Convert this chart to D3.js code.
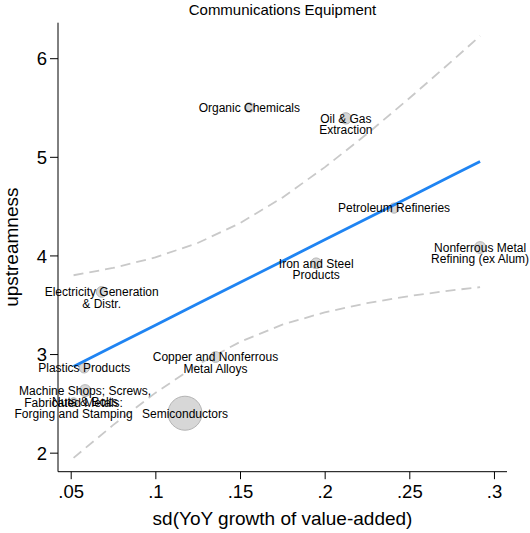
<!DOCTYPE html>
<html>
<head>
<meta charset="utf-8">
<script src="https://cdn.jsdelivr.net/npm/d3@7"></script>
<style>
  html, body { margin: 0; padding: 0; background: #fff; }
  svg { display: block; font-family: "Liberation Sans", Arial, Helvetica, sans-serif; }
</style>
</head>
<body>
<svg id="chart" width="530" height="533"></svg>
<script>
// Industries supplying communications equipment
const industries = [
  ["Organic Chemicals"],
  ["Oil & Gas", "Extraction"],
  ["Petroleum Refineries"],
  ["Nonferrous Metal", "Refining (ex Alum)"],
  ["Iron and Steel", "Products"],
  ["Electricity Generation", "& Distr."],
  ["Plastics Products"],
  ["Machine Shops; Screws,", "Nuts & Bolts"],
  ["Fabricated Metals:", "Forging and Stamping"],
  ["Copper and Nonferrous", "Metal Alloys"],
  ["Semiconductors"]
];
const sdGrowth     = [0.1555, 0.2125, 0.2410, 0.2918, 0.1950, 0.0683, 0.0580, 0.0585, 0.0517, 0.1355, 0.1175];
const upstreamness = [5.50, 5.39, 4.48, 4.08, 3.92, 3.63, 2.86, 2.63, 2.51, 2.97, 2.40];
const weight       = [8, 11, 9, 12, 10, 10, 9, 12, 7, 10, 100];

// Linear fit with its confidence band
const fitX     = [0.0517, 0.075, 0.100, 0.125, 0.150, 0.175, 0.200, 0.225, 0.250, 0.275, 0.2918];
const fitY     = [2.874, 3.076, 3.293, 3.509, 3.725, 3.942, 4.158, 4.374, 4.591, 4.807, 4.952];
const ciUpper  = [3.799, 3.873, 3.980, 4.126, 4.327, 4.586, 4.893, 5.232, 5.594, 5.968, 6.226];
const ciLower  = [1.947, 2.279, 2.606, 2.892, 3.123, 3.298, 3.423, 3.516, 3.588, 3.646, 3.678];

const xTicks = [0.05, 0.10, 0.15, 0.20, 0.25, 0.30];
const xTickLabels = [".05", ".1", ".15", ".2", ".25", ".3"];
const yTicks = [2, 3, 4, 5, 6];
const yTickLabels = ["2", "3", "4", "5", "6"];

const chartTitle = "Communications Equipment";
const xTitle = "sd(YoY growth of value-added)";
const yTitle = "upstreamness";

const svg = d3.select("#chart");
const plot = { left: 58, right: 507, top: 22.7, bottom: 471.7 };

const x = d3.scaleLinear().domain([0.0425, 0.3077]).range([plot.left, plot.right]);
const y = d3.scaleLinear().domain([1.807, 6.36]).range([plot.bottom, plot.top]);
const r = d3.scaleSqrt().domain([0, 100]).range([0, 17]);

// Axes
const xAxis = d3.axisBottom(x).tickValues(xTicks)
  .tickFormat((d, i) => xTickLabels[i]).tickSize(7.5).tickPadding(6).tickSizeOuter(0);
const yAxis = d3.axisLeft(y).tickValues(yTicks)
  .tickFormat((d, i) => yTickLabels[i]).tickSize(8).tickPadding(3).tickSizeOuter(0);

const gx = svg.append("g").attr("transform", `translate(0,${plot.bottom})`).call(xAxis);
const gy = svg.append("g").attr("transform", `translate(${plot.left},0)`).call(yAxis);
[gx, gy].forEach(g => {
  g.select(".domain").attr("stroke", "#000").attr("stroke-width", 1);
  g.selectAll(".tick line").attr("stroke", "#000").attr("stroke-width", 1);
  g.selectAll(".tick text").attr("fill", "#000").style("font-size", "18.5px")
    .style("font-family", "'Liberation Sans', Arial, sans-serif");
});
gy.selectAll(".tick text").attr("dy", "0.36em");
gx.select(".domain").attr("d", `M${plot.left},0H${plot.right}`);
gy.select(".domain").attr("d", `M0,${plot.top}V${plot.bottom}`);

// Confidence band edges
const band = d3.line().x(d => x(d[0])).y(d => y(d[1]));
[ciUpper, ciLower].forEach(arr => {
  svg.append("path")
    .attr("d", band(fitX.map((v, i) => [v, arr[i]])))
    .attr("fill", "none")
    .attr("stroke", "#c9c9c9")
    .attr("stroke-width", 1.8)
    .attr("stroke-dasharray", "10,6");
});

// Weighted markers
svg.append("g").selectAll("circle")
  .data(industries.map((name, i) => ({ name, sx: sdGrowth[i], up: upstreamness[i], w: weight[i] })))
  .join("circle")
  .attr("cx", d => x(d.sx))
  .attr("cy", d => y(d.up))
  .attr("r", d => r(d.w))
  .attr("fill", "#d7d7d7")
  .attr("stroke", "#b4b4b4")
  .attr("stroke-width", 1);

// Fitted line
svg.append("path")
  .attr("d", band(fitX.map((v, i) => [v, fitY[i]])))
  .attr("fill", "none")
  .attr("stroke", "#1f84f2")
  .attr("stroke-width", 2.8);

// Marker labels, first line centred on the marker
const labels = svg.append("g").style("font-size", "12px").attr("fill", "#000");
industries.forEach((lines, i) => {
  const t = labels.append("text")
    .attr("x", x(sdGrowth[i]))
    .attr("y", y(upstreamness[i]))
    .attr("text-anchor", "middle");
  lines.forEach((ln, j) => {
    t.append("tspan")
      .attr("x", x(sdGrowth[i]))
      .attr("dy", j === 0 ? "0.36em" : "11.3")
      .text(ln);
  });
});

// Titles
svg.append("text")
  .attr("x", (plot.left + plot.right) / 2).attr("y", 15)
  .attr("text-anchor", "middle").style("font-size", "15px")
  .text(chartTitle);

svg.append("text")
  .attr("x", (plot.left + plot.right) / 2).attr("y", 525)
  .attr("text-anchor", "middle").style("font-size", "19px")
  .text(xTitle);

svg.append("text")
  .attr("transform", `translate(18,${(plot.top + plot.bottom) / 2}) rotate(-90)`)
  .attr("text-anchor", "middle").style("font-size", "19px")
  .text(yTitle);
</script>
</body>
</html>
